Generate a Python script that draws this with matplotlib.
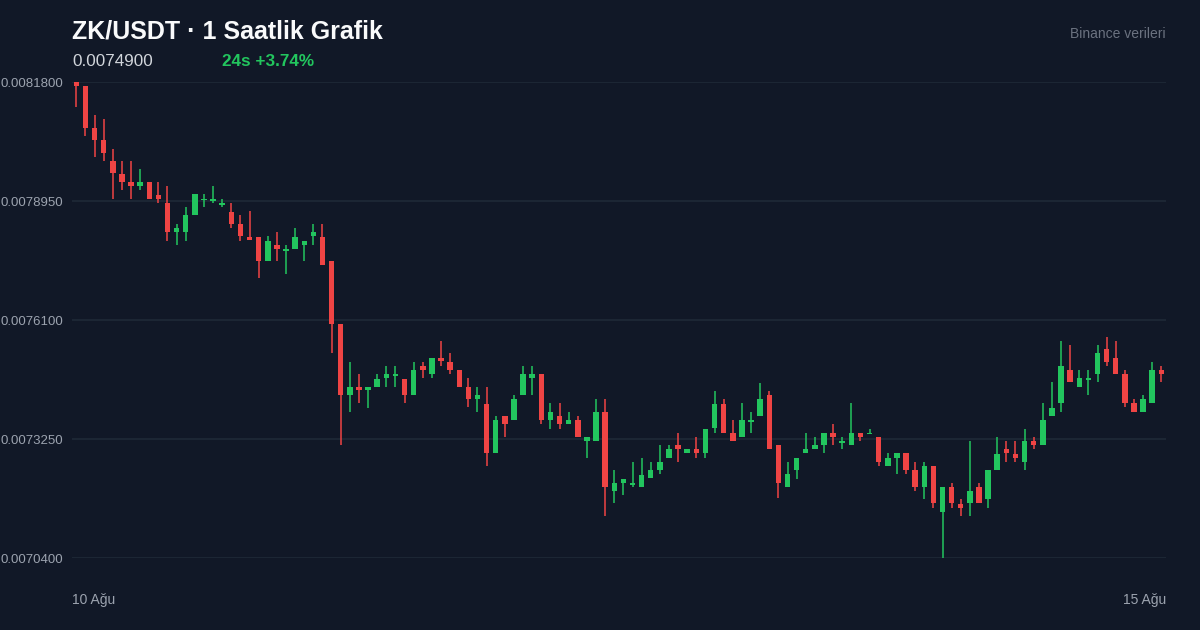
import matplotlib
matplotlib.use("Agg")
import matplotlib.pyplot as plt
import numpy as np

# ---- data ----
opens = [0.0081800, 0.0081711, 0.0080706, 0.0080404, 0.0079901, 0.0079604, 0.0079405, 0.0079309, 0.0079405, 0.0079101,
         0.0078902, 0.0078208, 0.0078208, 0.0078607, 0.0078962, 0.0078957, 0.0078854, 0.0078694, 0.0078406, 0.0078095,
         0.0078095, 0.0077513, 0.0077896, 0.0077760, 0.0077807, 0.0077903, 0.0078112, 0.0078095, 0.0077506, 0.0076004,
         0.0074311, 0.0074495, 0.0074416, 0.0074502, 0.0074711, 0.0074759, 0.0074694, 0.0074311, 0.0074998, 0.0074807,
         0.0075197, 0.0075094, 0.0074895, 0.0074495, 0.0074215, 0.0074095, 0.0072907, 0.0073801, 0.0073705, 0.0074304,
         0.0074704, 0.0074799, 0.0073705, 0.0073801, 0.0073609, 0.0073705, 0.0073209, 0.0073209, 0.0073897, 0.0072004,
         0.0072203, 0.0072155, 0.0072107, 0.0072309, 0.0072507, 0.0072802, 0.0073099, 0.0072907, 0.0073003, 0.0072907,
         0.0073506, 0.0074095, 0.0073401, 0.0073305, 0.0073657, 0.0073808, 0.0074304, 0.0073099, 0.0072100, 0.0072507,
         0.0072907, 0.0073003, 0.0073106, 0.0073401, 0.0073161, 0.0073106, 0.0073401, 0.0073362, 0.0073298, 0.0072603,
         0.0072802, 0.0072907, 0.0072507, 0.0072107, 0.0072603, 0.0071509, 0.0072093, 0.0071693, 0.0071710, 0.0072093,
         0.0071806, 0.0072507, 0.0073003, 0.0072898, 0.0072706, 0.0073202, 0.0073106, 0.0073808, 0.0074105, 0.0074902,
         0.0074502, 0.0074663, 0.0074807, 0.0075398, 0.0075197, 0.0074799, 0.0074105, 0.0073904, 0.0074105, 0.0074902]
highs = [0.0081800, 0.0081711, 0.0081010, 0.0080907, 0.0080203, 0.0079908, 0.0079908, 0.0079709, 0.0079405, 0.0079405,
         0.0079309, 0.0078399, 0.0078806, 0.0079110, 0.0079106, 0.0079309, 0.0078998, 0.0078902, 0.0078607, 0.0078710,
         0.0078095, 0.0078112, 0.0078200, 0.0077896, 0.0078303, 0.0077999, 0.0078399, 0.0078399, 0.0077506, 0.0076004,
         0.0075101, 0.0074807, 0.0074495, 0.0074799, 0.0074998, 0.0074998, 0.0074694, 0.0075101, 0.0075101, 0.0075197,
         0.0075597, 0.0075302, 0.0074895, 0.0074704, 0.0074495, 0.0074495, 0.0073801, 0.0073801, 0.0074297, 0.0074998,
         0.0074998, 0.0074799, 0.0074105, 0.0074105, 0.0073897, 0.0073801, 0.0073305, 0.0074201, 0.0074201, 0.0072507,
         0.0072299, 0.0072699, 0.0072802, 0.0072699, 0.0073106, 0.0073106, 0.0073401, 0.0073003, 0.0073298, 0.0073497,
         0.0074399, 0.0074201, 0.0073705, 0.0074105, 0.0073897, 0.0074598, 0.0074399, 0.0073099, 0.0072699, 0.0072802,
         0.0073401, 0.0073298, 0.0073401, 0.0073609, 0.0073298, 0.0074105, 0.0073401, 0.0073497, 0.0073298, 0.0072907,
         0.0072907, 0.0072907, 0.0072699, 0.0072699, 0.0072603, 0.0072093, 0.0072203, 0.0071806, 0.0073202, 0.0072203,
         0.0072500, 0.0073298, 0.0073202, 0.0073202, 0.0073497, 0.0073298, 0.0074105, 0.0074608, 0.0075597, 0.0075501,
         0.0074902, 0.0074902, 0.0075501, 0.0075700, 0.0075597, 0.0074902, 0.0074201, 0.0074304, 0.0075101, 0.0074998]
lows = [0.0081208, 0.0080507, 0.0080004, 0.0079908, 0.0079005, 0.0079206, 0.0079005, 0.0079206, 0.0079005, 0.0078909,
        0.0077999, 0.0077903, 0.0077999, 0.0078607, 0.0078801, 0.0078902, 0.0078799, 0.0078310, 0.0077999, 0.0078009,
        0.0077099, 0.0077513, 0.0077506, 0.0077202, 0.0077807, 0.0077506, 0.0077903, 0.0077410, 0.0075302, 0.0073106,
        0.0073904, 0.0074105, 0.0073999, 0.0074502, 0.0074502, 0.0074502, 0.0074105, 0.0074311, 0.0074704, 0.0074704,
        0.0075005, 0.0074807, 0.0074502, 0.0074009, 0.0073904, 0.0072610, 0.0072907, 0.0073305, 0.0073705, 0.0074304,
        0.0074304, 0.0073602, 0.0073497, 0.0073497, 0.0073609, 0.0073305, 0.0072802, 0.0073209, 0.0071406, 0.0071710,
        0.0071909, 0.0072107, 0.0072107, 0.0072309, 0.0072404, 0.0072802, 0.0072706, 0.0072907, 0.0072802, 0.0072802,
        0.0073401, 0.0073401, 0.0073209, 0.0073305, 0.0073401, 0.0073808, 0.0073003, 0.0071837, 0.0072100, 0.0072299,
        0.0072907, 0.0073003, 0.0072907, 0.0073106, 0.0073003, 0.0073106, 0.0073202, 0.0073362, 0.0072603, 0.0072603,
        0.0072404, 0.0072404, 0.0072004, 0.0071806, 0.0071605, 0.0070407, 0.0071605, 0.0071406, 0.0071406, 0.0071710,
        0.0071605, 0.0072507, 0.0072706, 0.0072706, 0.0072507, 0.0073003, 0.0073106, 0.0073808, 0.0073904, 0.0074608,
        0.0074502, 0.0074304, 0.0074608, 0.0075005, 0.0074807, 0.0074009, 0.0073904, 0.0073904, 0.0074105, 0.0074608]
closes = [0.0081711, 0.0080706, 0.0080411, 0.0080107, 0.0079613, 0.0079405, 0.0079309, 0.0079405, 0.0079005, 0.0079005,
          0.0078215, 0.0078303, 0.0078607, 0.0079110, 0.0078998, 0.0078998, 0.0078909, 0.0078406, 0.0078112, 0.0078009,
          0.0077513, 0.0077992, 0.0077800, 0.0077800, 0.0078095, 0.0077999, 0.0078200, 0.0077410, 0.0076011, 0.0074311,
          0.0074495, 0.0074416, 0.0074495, 0.0074694, 0.0074799, 0.0074799, 0.0074311, 0.0074902, 0.0074910, 0.0075197,
          0.0075111, 0.0074910, 0.0074502, 0.0074215, 0.0074304, 0.0072907, 0.0073705, 0.0073609, 0.0074201, 0.0074799,
          0.0074799, 0.0073705, 0.0073897, 0.0073609, 0.0073705, 0.0073305, 0.0073305, 0.0073897, 0.0072107, 0.0072196,
          0.0072299, 0.0072196, 0.0072395, 0.0072507, 0.0072699, 0.0073003, 0.0073003, 0.0073003, 0.0072907, 0.0073497,
          0.0074095, 0.0073401, 0.0073209, 0.0073698, 0.0073698, 0.0074201, 0.0073003, 0.0072196, 0.0072404, 0.0072802,
          0.0073003, 0.0073099, 0.0073401, 0.0073305, 0.0073202, 0.0073401, 0.0073305, 0.0073401, 0.0072706, 0.0072802,
          0.0072907, 0.0072507, 0.0072107, 0.0072603, 0.0071710, 0.0072093, 0.0071710, 0.0071605, 0.0072004, 0.0071710,
          0.0072500, 0.0072898, 0.0072907, 0.0072802, 0.0073202, 0.0073106, 0.0073705, 0.0073999, 0.0074998, 0.0074608,
          0.0074704, 0.0074704, 0.0075302, 0.0075101, 0.0074807, 0.0074105, 0.0073904, 0.0074201, 0.0074902, 0.0074807]

y_ticks = [0.0070400, 0.0073250, 0.0076100, 0.0078950, 0.0081800]
x_labels = ["10 Ağu", "15 Ağu"]
title = "ZK/USDT · 1 Saatlik Grafik"
last_price = "0.0074900"
change_text = "24s +3.74%"
source_text = "Binance verileri"

# ---- style ----
BG = "#111827"
GREEN = "#22c55e"
RED = "#ef4444"
GRID = "#1f2937"
plt.rcParams['font.family'] = ['Liberation Sans', 'DejaVu Sans']

fig = plt.figure(figsize=(12, 6.3), dpi=100, facecolor=BG)
ax = fig.add_axes([72 / 1200, 72 / 630, 1094 / 1200, 476 / 630])
ax.set_facecolor(BG)

o = np.array(opens)
h = np.array(highs)
l = np.array(lows)
c = np.array(closes)
x = np.arange(len(o))
colors = np.where(c >= o, GREEN, RED)

ax.vlines(x, l, h, colors=colors, linewidth=1.1, zorder=3)
bottoms = np.minimum(o, c)
heights = np.maximum(np.abs(c - o), 2.4e-6)
ax.bar(x, heights, bottom=bottoms, width=0.6, color=colors, linewidth=0, zorder=4)

ax.set_xlim(-0.4716, 119.51)
ax.set_ylim(0.00704, 0.00818)
ax.set_yticks(y_ticks)
ax.set_yticklabels([f"{v:.7f}" for v in y_ticks])
ax.tick_params(axis='y', length=0, pad=6.5, labelcolor="#9ca3af", labelsize=9.5)
ax.set_xticks([])
ax.grid(axis='y', color=GRID, linewidth=1.2, zorder=0)
ax.set_axisbelow(True)
for s in ax.spines.values():
    s.set_visible(False)

# ---- texts ----
fig.text(72 / 1200, 1 - 38.5 / 630, title, color="#f9fafb", fontsize=18,
         fontweight="bold", va="baseline", ha="left")
fig.text(72 / 1200, 1 - 66 / 630, last_price, color="#d1d5db", fontsize=12.3,
         va="baseline", ha="left")
fig.text(222 / 1200, 1 - 66 / 630, change_text, color=GREEN, fontsize=12.3,
         fontweight="bold", va="baseline", ha="left")
fig.text(1166 / 1200, 1 - 38.3 / 630, source_text, color="#6b7280", fontsize=10,
         va="baseline", ha="right")
fig.text(72 / 1200, 1 - 604 / 630, x_labels[0], color="#9ca3af", fontsize=10,
         va="baseline", ha="left")
fig.text(1166 / 1200, 1 - 604 / 630, x_labels[1], color="#9ca3af", fontsize=10,
         va="baseline", ha="right")

fig.savefig("out.png", dpi=100, facecolor=BG)
